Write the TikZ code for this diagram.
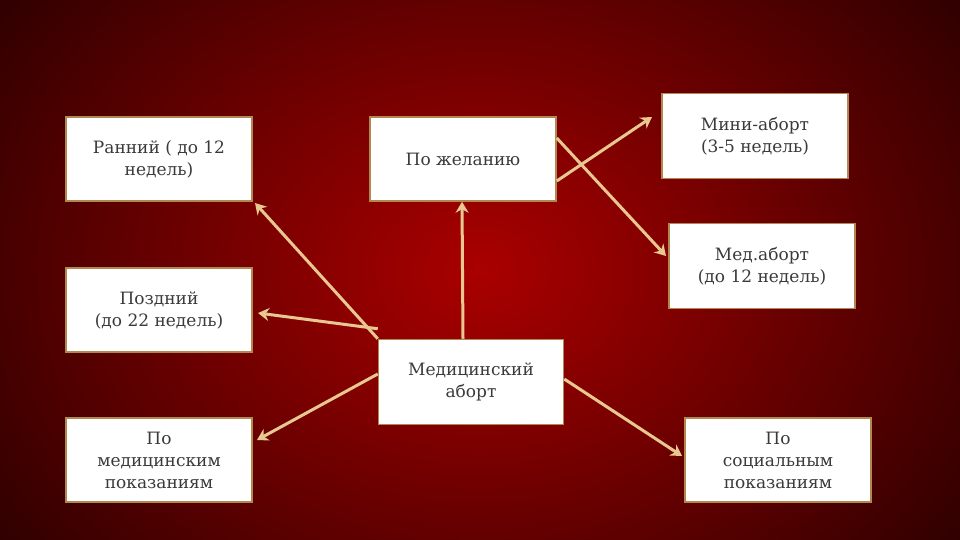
\documentclass[tikz,border=0pt]{standalone}
\usepackage{fontspec}
\usetikzlibrary{arrows.meta}
\setmainfont{DejaVu Serif}
\definecolor{bord}{HTML}{B08850}
\definecolor{arr}{HTML}{E8C890}
\definecolor{txt}{HTML}{3A3A3A}
\begin{document}
\begin{tikzpicture}[x=1pt,y=-1pt,
 box/.style={draw=bord,line width=1.5pt,fill=white,text=txt,align=center,font=\fontsize{17}{22}\selectfont,inner sep=0pt},
 arw/.style={draw=arr,line width=3pt,-{Stealth[length=11pt,width=13pt]}}]
\useasboundingbox (0,0) rectangle (960,540);
\fill[black] (0,0) rectangle (960,540);
\shade[inner color={rgb,255:red,170;green,0;blue,0},outer color={rgb,255:red,40;green,0;blue,0}] (-150,-220) rectangle (1110,760);
\node[box,minimum width=186pt,minimum height=84pt] (r) at (159,159) {Ранний ( до 12\\недель)};
\node[box,minimum width=186pt,minimum height=84pt] (z) at (463,159) {По желанию};
\node[box,minimum width=186pt,minimum height=85pt] (m) at (755,136) {Мини-аборт\\(3-5 недель)};
\node[box,minimum width=186pt,minimum height=85pt] (d) at (762,266) {Мед.аборт\\(до 12 недель)};
\node[box,minimum width=186pt,minimum height=84pt] (p) at (159,310) {Поздний\\(до 22 недель)};
\node[box,minimum width=185pt,minimum height=85pt] (a) at (471,382) {Медицинский\\аборт};
\node[box,minimum width=186pt,minimum height=84pt] (pm) at (159,460) {По\\медицинским\\показаниям};
\node[box,minimum width=186pt,minimum height=84pt] (ps) at (778,460) {По\\социальным\\показаниям};
\draw[arw] (a.north west) -- (255,203);
\draw[arw] ([yshift=10pt]a.north west) -- (258,313);
\draw[arw] ([xshift=-8pt]a.north) -- ([xshift=-1pt]z.south);
\draw[arw] ([yshift=8pt]a.west) -- (257,440);
\draw[arw] ([yshift=3pt]a.east) -- (682,456);
\draw[arw] ([yshift=-22pt]z.east) -- (652,117);
\draw[arw] ([yshift=21pt]z.east) -- (666,256);
\end{tikzpicture}
\end{document}
